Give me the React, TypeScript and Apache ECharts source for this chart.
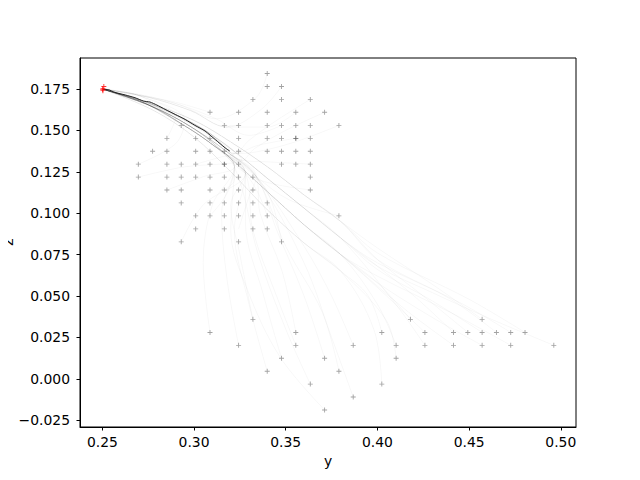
import React, { useEffect, useRef } from "react";
import * as echarts from "echarts";

// ---- data ----
const X_TICKS = [0.25, 0.3, 0.35, 0.4, 0.45, 0.5];
const Z_TICKS = [-0.025, 0, 0.025, 0.05, 0.075, 0.1, 0.125, 0.15, 0.175];
const X_NAME = "y";
const Y_NAME = "z";

// grey "+" start points [y, z]
const START_POINTS: number[][] = [
  [0.3399, 0.1843],
  [0.3399, 0.1765], [0.3477, 0.1765],
  [0.3321, 0.1687], [0.3477, 0.1687], [0.3634, 0.1687],
  [0.3087, 0.1609], [0.3243, 0.1609], [0.3399, 0.1609], [0.3555, 0.1609], [0.3712, 0.1609],
  [0.2930, 0.1530], [0.3165, 0.1530], [0.3243, 0.1530], [0.3399, 0.1530], [0.3477, 0.1530], [0.3555, 0.1530], [0.3634, 0.1530], [0.3790, 0.1530],
  [0.2852, 0.1452], [0.3009, 0.1452], [0.3087, 0.1452], [0.3243, 0.1452], [0.3399, 0.1452], [0.3477, 0.1452], [0.3555, 0.1452], [0.3555, 0.1452], [0.3634, 0.1452],
  [0.2774, 0.1374], [0.2852, 0.1374], [0.3009, 0.1374], [0.3087, 0.1374], [0.3165, 0.1374], [0.3243, 0.1374], [0.3399, 0.1374], [0.3477, 0.1374], [0.3555, 0.1374], [0.3634, 0.1374],
  [0.2696, 0.1296], [0.2852, 0.1296], [0.2930, 0.1296], [0.3009, 0.1296], [0.3087, 0.1296], [0.3165, 0.1296], [0.3165, 0.1296], [0.3243, 0.1296], [0.3477, 0.1296], [0.3555, 0.1296], [0.3634, 0.1296],
  [0.2696, 0.1218], [0.2852, 0.1218], [0.2930, 0.1218], [0.3009, 0.1218], [0.3087, 0.1218], [0.3165, 0.1218], [0.3243, 0.1218], [0.3321, 0.1218], [0.3634, 0.1218],
  [0.2852, 0.1140], [0.2930, 0.1140], [0.3087, 0.1140], [0.3165, 0.1140], [0.3243, 0.1140], [0.3321, 0.1140], [0.3634, 0.1140],
  [0.2930, 0.1062], [0.3087, 0.1062], [0.3165, 0.1062], [0.3243, 0.1062], [0.3321, 0.1062], [0.3399, 0.1062],
  [0.3009, 0.0984], [0.3087, 0.0984], [0.3165, 0.0984], [0.3243, 0.0984], [0.3321, 0.0984], [0.3399, 0.0984], [0.3790, 0.0984],
  [0.3009, 0.0905], [0.3165, 0.0905], [0.3321, 0.0905], [0.3399, 0.0905],
  [0.2930, 0.0827], [0.3243, 0.0827], [0.3477, 0.0827],
  [0.3321, 0.0359], [0.4180, 0.0359], [0.4571, 0.0359],
  [0.3087, 0.0280], [0.3555, 0.0280], [0.4024, 0.0280], [0.4259, 0.0280], [0.4415, 0.0280], [0.4493, 0.0280], [0.4571, 0.0280], [0.4649, 0.0280], [0.4727, 0.0280], [0.4805, 0.0280],
  [0.3243, 0.0202], [0.3555, 0.0202], [0.3868, 0.0202], [0.4102, 0.0202], [0.4259, 0.0202], [0.4415, 0.0202], [0.4571, 0.0202], [0.4727, 0.0202], [0.4962, 0.0202],
  [0.3477, 0.0124], [0.3712, 0.0124], [0.4102, 0.0124],
  [0.3399, 0.0046], [0.3790, 0.0046],
  [0.3634, -0.0032], [0.4024, -0.0032],
  [0.3868, -0.0110],
  [0.3712, -0.0188],
];

// red end markers near the attractor
const END_POINTS: number[][] = [
  [0.2508, 0.1765],
  [0.2503, 0.1752],
  [0.2502, 0.1746],
  [0.2503, 0.1740],
];

// highlighted (black) trajectory
const MAIN_PATH: number[][] = [
  [0.3195, 0.1375], [0.3169, 0.1395], [0.3115, 0.1445], [0.3060, 0.1496],
  [0.3005, 0.1530], [0.2951, 0.1566], [0.2897, 0.1596], [0.2842, 0.1627],
  [0.2797, 0.1653], [0.2760, 0.1671], [0.2724, 0.1677], [0.2678, 0.1697],
  [0.2624, 0.1714], [0.2569, 0.1729], [0.2533, 0.1746], [0.2505, 0.1748],
];

// shared tails of the faint trajectories
const TAILS: Record<string, number[][]> = {
  U1: [[0.312, 0.157], [0.292, 0.1655], [0.272, 0.1712], [0.2505, 0.1748]],
  U2: [[0.318, 0.152], [0.298, 0.162], [0.275, 0.170], [0.2505, 0.1748]],
  M1: [[0.322, 0.136], [0.31, 0.147], [0.298, 0.155], [0.28, 0.1645], [0.262, 0.171], [0.2505, 0.1748]],
  M2: [[0.326, 0.132], [0.314, 0.143], [0.302, 0.1515], [0.286, 0.161], [0.266, 0.1695], [0.2505, 0.1748]],
  L1: [[0.328, 0.124], [0.313, 0.139], [0.296, 0.152], [0.276, 0.165], [0.2505, 0.1748]],
  L2: [[0.322, 0.128], [0.308, 0.143], [0.29, 0.156], [0.27, 0.168], [0.2505, 0.1748]],
  L3: [[0.334, 0.122], [0.318, 0.137], [0.30, 0.151], [0.279, 0.1635], [0.2505, 0.1748]],
  E: [[0.27, 0.171], [0.2505, 0.1748]],
  F1: [[0.38, 0.065], [0.36, 0.082], [0.34, 0.102], [0.32, 0.125], [0.30, 0.146], [0.278, 0.162], [0.2505, 0.1748]],
  F2: [[0.38, 0.075], [0.36, 0.093], [0.34, 0.113], [0.32, 0.133], [0.30, 0.151], [0.276, 0.165], [0.2505, 0.1748]],
  F3: [[0.38, 0.085], [0.36, 0.103], [0.34, 0.121], [0.32, 0.139], [0.30, 0.154], [0.274, 0.167], [0.2505, 0.1748]],
  F4: [[0.38, 0.095], [0.36, 0.111], [0.34, 0.128], [0.32, 0.143], [0.30, 0.156], [0.272, 0.168], [0.2505, 0.1748]],
};

// faint trajectories: head waypoints + tail name
const TRAJ_HEADS: [number[][], string][] = [
  [[[0.3399, 0.1843], [0.334, 0.170]], "U1"],
  [[[0.3477, 0.1765], [0.337, 0.163]], "U2"],
  [[[0.3634, 0.1687], [0.345, 0.156], [0.33, 0.144]], "M1"],
  [[[0.3712, 0.1609], [0.35, 0.150], [0.333, 0.139]], "M2"],
  [[[0.3790, 0.1530], [0.355, 0.143], [0.334, 0.137]], "M1"],
  [[[0.3555, 0.1609], [0.34, 0.152]], "U2"],
  [[[0.3087, 0.1609], [0.29, 0.167]], "E"],
  [[[0.2930, 0.1530], [0.28, 0.164]], "E"],
  [[[0.2852, 0.1452], [0.29, 0.158]], "E"],
  [[[0.2696, 0.1296], [0.29, 0.142], [0.295, 0.156]], "E"],
  [[[0.2696, 0.1218], [0.295, 0.128], [0.318, 0.130]], "M2"],
  [[[0.2852, 0.1140], [0.305, 0.122]], "L2"],
  [[[0.2930, 0.0827], [0.305, 0.105]], "L1"],
  [[[0.3087, 0.0984], [0.318, 0.112]], "L2"],
  [[[0.3243, 0.0905], [0.33, 0.11]], "L3"],
  [[[0.3399, 0.0984], [0.335, 0.112]], "L1"],
  [[[0.3477, 0.0827], [0.342, 0.108]], "L3"],
  [[[0.3790, 0.0984], [0.352, 0.108]], "L3"],
  [[[0.3634, 0.1140], [0.342, 0.118]], "L1"],
  [[[0.3634, 0.1296], [0.34, 0.131]], "M2"],
  [[[0.3555, 0.1452], [0.335, 0.141]], "M1"],
  [[[0.3477, 0.1530], [0.33, 0.147]], "U1"],
  [[[0.3243, 0.1530], [0.32, 0.153]], "U2"],
  [[[0.3165, 0.1140], [0.322, 0.12]], "L2"],
  [[[0.3009, 0.1296], [0.315, 0.134]], "M1"],
  [[[0.3087, 0.0280], [0.305, 0.07], [0.31, 0.105]], "L2"],
  [[[0.3243, 0.0202], [0.318, 0.06], [0.315, 0.10]], "L2"],
  [[[0.3321, 0.0359], [0.325, 0.075], [0.32, 0.105]], "L1"],
  [[[0.3399, 0.0046], [0.33, 0.045], [0.322, 0.09]], "L1"],
  [[[0.3477, 0.0124], [0.338, 0.05], [0.328, 0.095]], "L1"],
  [[[0.3555, 0.0280], [0.348, 0.065], [0.336, 0.10]], "L3"],
  [[[0.3555, 0.0202], [0.345, 0.05], [0.332, 0.09]], "L1"],
  [[[0.3634, -0.0032], [0.35, 0.03], [0.335, 0.075]], "L2"],
  [[[0.3712, 0.0124], [0.36, 0.05], [0.345, 0.09]], "L3"],
  [[[0.3712, -0.0188], [0.347, 0.013], [0.329, 0.054], [0.32, 0.09]], "L2"],
  [[[0.3790, 0.0046], [0.37, 0.04], [0.35, 0.08]], "L3"],
  [[[0.3868, -0.0110], [0.375, 0.025], [0.36, 0.07]], "L3"],
  [[[0.3868, 0.0202], [0.375, 0.05], [0.36, 0.08]], "L3"],
  [[[0.4024, -0.0032], [0.398, 0.03]], "F1"],
  [[[0.4024, 0.0280], [0.395, 0.05]], "F1"],
  [[[0.4102, 0.0202], [0.40, 0.045]], "F2"],
  [[[0.4102, 0.0124], [0.405, 0.035]], "F1"],
  [[[0.4180, 0.0359], [0.40, 0.058]], "F2"],
  [[[0.4259, 0.0280], [0.405, 0.05]], "F2"],
  [[[0.4259, 0.0202], [0.41, 0.045]], "F3"],
  [[[0.4415, 0.0280], [0.42, 0.05], [0.40, 0.068]], "F3"],
  [[[0.4415, 0.0202], [0.415, 0.042]], "F2"],
  [[[0.4493, 0.0280], [0.425, 0.05], [0.40, 0.072]], "F4"],
  [[[0.4571, 0.0359], [0.43, 0.057], [0.40, 0.079]], "F4"],
  [[[0.4571, 0.0280], [0.43, 0.047], [0.40, 0.066]], "F3"],
  [[[0.4571, 0.0202], [0.43, 0.037], [0.40, 0.058]], "F2"],
  [[[0.4649, 0.0280], [0.44, 0.048], [0.40, 0.072]], "F4"],
  [[[0.4727, 0.0280], [0.445, 0.046], [0.40, 0.07]], "F3"],
  [[[0.4727, 0.0202], [0.44, 0.04], [0.40, 0.062]], "F2"],
  [[[0.4805, 0.0280], [0.45, 0.048], [0.40, 0.076]], "F4"],
  [[[0.4962, 0.0202], [0.46, 0.037], [0.43, 0.052], [0.40, 0.068]], "F3"],
];

const PLUS =
  "path://M-1,-0.18L-0.18,-0.18L-0.18,-1L0.18,-1L0.18,-0.18L1,-0.18L1,0.18L0.18,0.18L0.18,1L-0.18,1L-0.18,0.18L-1,0.18Z";
const FONT = "DejaVu Sans";

export default function App() {
  const ref = useRef<HTMLDivElement>(null);

  useEffect(() => {
    if (!ref.current) return;
    const chart = echarts.init(ref.current, undefined, { renderer: "svg" });

    const trajSeries = TRAJ_HEADS.map(([head, tail]) => ({
      type: "line",
      data: [...head, ...(TAILS[tail] || TAILS.E)],
      showSymbol: false,
      symbol: "none",
      smooth: 0.35,
      silent: true,
      lineStyle: { color: "rgba(0,0,0,0.04)", width: 0.9 },
      z: 1,
    }));

    const option: any = {
      animation: false,
      grid: {
        left: 80,
        top: 58,
        width: 496,
        height: 369,
        outerBoundsMode: "none",
        containLabel: false,
        show: true,
        borderColor: "#000",
        borderWidth: 1,
        backgroundColor: "#fff",
      },
      graphic: [
        {
          type: "text",
          x: 8,
          y: 242,
          rotation: Math.PI / 2,
          silent: true,
          style: {
            text: Y_NAME,
            fontFamily: FONT,
            fontSize: 13.9,
            fill: "#000",
            textAlign: "center",
            textVerticalAlign: "middle",
          },
        },
      ],
      xAxis: {
        type: "value",
        min: 0.2378,
        max: 0.5083,
        name: X_NAME,
        nameLocation: "middle",
        nameGap: 27,
        nameMoveOverlap: false,
        nameTextStyle: { fontFamily: FONT, fontSize: 13.9, color: "#000" },
        axisLine: { show: true, onZero: false, lineStyle: { color: "#000", width: 1 } },
        axisTick: { show: true, customValues: X_TICKS, length: 3.5, lineStyle: { color: "#000", width: 1 } },
        axisLabel: {
          customValues: X_TICKS,
          margin: 8,
          fontFamily: FONT,
          fontSize: 13.9,
          color: "#000",
          formatter: (v: number) => v.toFixed(2),
        },
        splitLine: { show: false },
      },
      yAxis: {
        type: "value",
        min: -0.0291,
        max: 0.1937,
        axisLine: { show: true, onZero: false, lineStyle: { color: "#000", width: 1 } },
        axisTick: { show: true, customValues: Z_TICKS, length: 3.5, lineStyle: { color: "#000", width: 1 } },
        axisLabel: {
          customValues: Z_TICKS,
          margin: 10,
          fontFamily: FONT,
          fontSize: 13.9,
          color: "#000",
          formatter: (v: number) => v.toFixed(3).replace("-", "\u2212"),
        },
        splitLine: { show: false },
      },
      series: [
        ...trajSeries,
        {
          type: "scatter",
          data: START_POINTS,
          symbol: PLUS,
          symbolSize: 5,
          silent: true,
          itemStyle: { color: "rgba(0,0,0,0.45)" },
          z: 2,
        },
        {
          type: "line",
          data: MAIN_PATH,
          showSymbol: false,
          symbol: "none",
          smooth: 0.2,
          silent: true,
          lineStyle: { color: "#222", width: 1 },
          z: 3,
        },
        {
          type: "scatter",
          data: END_POINTS,
          symbol: PLUS,
          symbolSize: 5,
          silent: true,
          itemStyle: { color: "#ff0000" },
          z: 4,
        },
      ],
    };

    chart.setOption(option);
    return () => chart.dispose();
  }, []);

  return <div ref={ref} style={{ width: 640, height: 480, margin: -8 }} />;
}
